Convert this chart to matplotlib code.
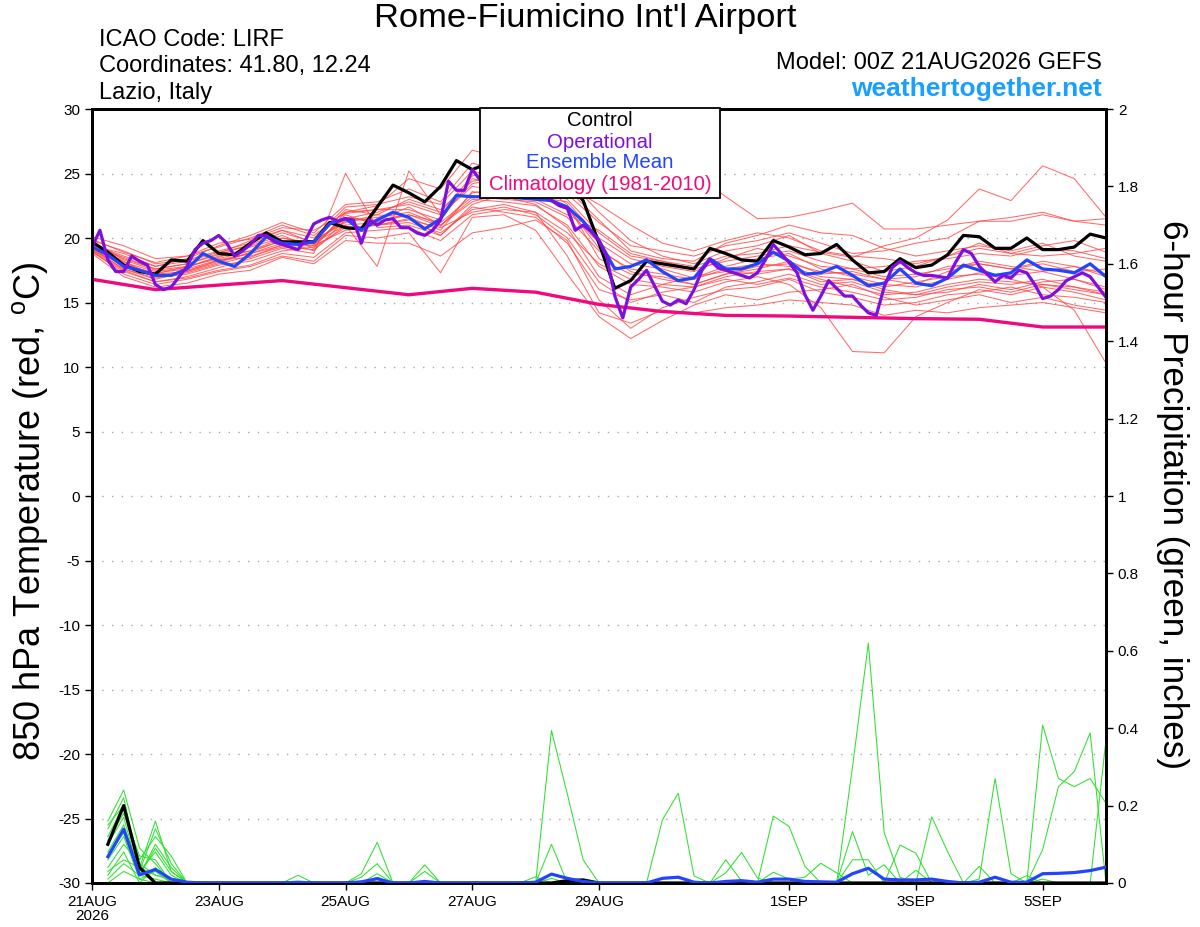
import numpy as np
import matplotlib
matplotlib.use('Agg')
import matplotlib.pyplot as plt
from matplotlib.patches import Rectangle

plt.rcParams['font.family'] = ['Liberation Sans', 'DejaVu Sans']
plt.rcParams['axes.unicode_minus'] = False
plt.rcParams['mathtext.fontset'] = 'custom'
plt.rcParams['mathtext.rm'] = 'Liberation Sans'

# ---------------- data (read off the GEFS plume) ----------------
# time axis in days after 00Z 21AUG2026
tick_days = [0, 2, 4, 6, 8, 11, 13, 15]
tick_labels = ['21AUG\n2026', '23AUG', '25AUG', '27AUG', '29AUG', '1SEP', '3SEP', '5SEP']

# control, 6-hourly (deg C)
ctrl_temp = [19.7, 18.9, 17.9, 17.4, 17.2, 18.3, 18.2, 19.8,
             18.8, 18.7, 19.6, 20.4, 19.7, 19.7, 19.7, 21.2,
             20.8, 20.7, 22.4, 24.1, 23.5, 22.8, 24.0, 26.0,
             25.3, 25.8, 25.5, 25.3, 25.0, 24.8, 24.3, 22.9,
             19.6, 16.1, 16.7, 18.2, 18.0, 17.8, 17.6, 19.2,
             18.8, 18.3, 18.2, 19.8, 19.3, 18.7, 18.8, 19.5,
             18.3, 17.3, 17.4, 18.4, 17.7, 17.9, 18.7, 20.2,
             20.1, 19.2, 19.2, 20.0, 19.1, 19.1, 19.3, 20.3,
             20.0]

# ensemble mean, 6-hourly
mean_temp = [19.3, 18.7, 17.8, 17.5, 17.1, 17.1, 17.6, 18.8,
             18.2, 17.8, 18.8, 20.1, 19.6, 19.5, 19.7, 21.1,
             21.5, 20.6, 21.4, 22.0, 21.6, 20.7, 21.5, 23.3,
             23.2, 23.2, 23.2, 23.1, 23.0, 22.9, 22.4, 21.3,
             19.8, 17.6, 17.8, 18.3, 17.4, 16.7, 16.9, 18.4,
             17.6, 17.6, 18.0, 18.9, 18.2, 17.2, 17.3, 17.8,
             17.1, 16.3, 16.5, 17.6, 16.5, 16.3, 16.9, 17.9,
             17.5, 17.1, 17.3, 18.3, 17.6, 17.5, 17.3, 18.0,
             17.0]

# operational, 3-hourly
op_temp = [19.3, 20.6, 18.3, 17.4, 17.4, 18.6, 18.2, 17.9,
           16.4, 16.0, 16.2, 17.0, 17.8, 19.1, 19.6, 19.8,
           20.2, 19.6, 18.6, 19.0, 19.5, 20.2, 20.2, 19.7,
           19.5, 19.3, 19.1, 19.9, 21.1, 21.4, 21.6, 21.3,
           21.5, 21.4, 19.6, 21.4, 21.0, 21.4, 21.5, 20.8,
           20.8, 20.4, 20.2, 20.6, 21.4, 24.4, 23.7, 23.7,
           25.3, 24.5, 25.0, 25.2, 24.8, 24.5, 24.6, 24.2,
           23.8, 23.4, 22.9, 22.5, 22.3, 20.6, 21.0, 20.5,
           19.8, 18.5, 15.5, 13.8, 16.2, 16.8, 17.5, 16.3,
           15.1, 14.8, 15.2, 14.9, 16.0, 17.5, 18.3, 17.7,
           17.5, 17.3, 17.1, 16.9, 17.3, 18.3, 19.5, 18.8,
           18.1, 17.3, 15.6, 14.4, 15.5, 16.7, 16.1, 15.5,
           15.5, 14.8, 14.2, 14.0, 16.2, 17.7, 18.2, 17.7,
           17.3, 17.1, 17.1, 17.0, 16.9, 18.1, 19.1, 18.8,
           17.8, 17.2, 16.6, 17.1, 16.9, 17.5, 17.3, 16.4,
           15.3, 15.5, 16.0, 16.7, 17.0, 17.3, 17.0, 16.2,
           15.4]

# climatology 1981-2010, daily
clim_temp = [16.8, 16.0, 16.35, 16.7, 16.15, 15.6, 16.1, 15.8, 14.85,
             14.3, 14.0, 13.95, 13.85, 13.75, 13.7, 13.1, 13.1]

# ensemble members, 12-hourly
ens_temp = [
    [19.5, 18.2, 17.0, 17.3, 18.0, 18.6, 19.3, 19.1, 21.0, 21.2, 21.8, 20.9, 23.5, 23.9, 23.4, 22.2, 19.6,
     18.0, 17.6, 16.9, 17.8, 18.4, 18.8, 17.6, 17.0, 16.4, 16.2, 16.8, 17.3, 17.1, 17.4, 16.8, 16.2],
    [20.1, 19.4, 18.4, 18.6, 19.3, 20.0, 21.0, 20.2, 22.0, 22.5, 24.6, 23.8, 26.8, 26.2, 25.5, 24.6, 22.0,
     19.8, 18.6, 18.0, 19.0, 19.4, 20.2, 18.8, 18.2, 17.4, 17.8, 18.6, 19.6, 18.8, 19.4, 19.8, 18.9],
    [19.0, 18.0, 17.2, 17.8, 18.4, 19.0, 20.0, 19.5, 21.5, 22.0, 22.8, 22.0, 24.8, 25.6, 25.8, 25.0, 24.5,
     25.0, 25.3, 25.0, 23.2, 21.5, 21.6, 22.1, 22.7, 20.7, 20.7, 21.0, 21.3, 21.6, 22.0, 21.3, 21.0],
    [19.2, 17.6, 16.8, 17.4, 18.1, 18.9, 19.8, 19.4, 21.8, 21.0, 21.5, 20.2, 22.6, 23.4, 23.8, 23.0, 20.4,
     18.6, 18.2, 17.8, 18.6, 18.8, 19.4, 18.9, 18.5, 19.4, 20.0, 21.4, 23.8, 22.9, 25.6, 24.6, 21.6],
    [19.8, 19.0, 18.0, 18.3, 19.0, 19.6, 20.6, 20.0, 22.4, 22.6, 23.2, 22.6, 25.2, 24.6, 24.0, 23.4, 21.2,
     19.4, 19.0, 18.6, 19.4, 19.8, 20.4, 19.6, 18.8, 19.0, 19.6, 20.0, 21.3, 21.3, 21.8, 21.3, 21.5],
    [19.3, 17.9, 17.3, 17.6, 18.3, 18.5, 19.5, 19.8, 21.3, 21.6, 22.0, 21.0, 23.0, 22.8, 22.5, 21.0, 17.8,
     16.4, 16.2, 15.8, 16.6, 17.0, 16.4, 14.6, 11.2, 11.1, 13.9, 15.0, 16.0, 15.6, 16.2, 15.8, 15.2],
    [18.9, 17.4, 16.6, 17.0, 17.7, 18.4, 19.2, 18.8, 25.0, 20.8, 21.0, 20.2, 22.4, 22.0, 21.6, 19.6, 16.0,
     15.2, 15.6, 15.0, 16.2, 16.6, 17.2, 16.4, 16.6, 15.8, 15.6, 16.2, 16.6, 16.4, 16.8, 16.2, 15.8],
    [19.6, 18.4, 17.6, 18.0, 18.8, 19.8, 20.6, 19.6, 21.0, 17.8, 25.2, 21.8, 24.2, 24.8, 24.4, 22.6, 18.4,
     17.2, 17.0, 16.4, 17.2, 17.8, 18.0, 17.4, 17.2, 16.8, 16.4, 17.4, 18.0, 17.6, 18.2, 17.8, 17.0],
    [19.0, 17.2, 16.4, 16.8, 17.4, 17.8, 18.6, 18.2, 20.2, 20.0, 20.4, 17.3, 21.6, 21.8, 20.6, 17.2, 13.9,
     12.2, 13.6, 14.8, 15.6, 15.2, 15.8, 16.0, 16.4, 15.4, 14.8, 15.2, 15.6, 15.0, 15.4, 14.8, 14.4],
    [19.4, 18.8, 17.8, 18.2, 18.9, 19.4, 20.2, 19.2, 22.0, 22.2, 22.6, 21.8, 24.0, 23.6, 23.0, 21.8, 20.6,
     18.8, 18.2, 17.6, 18.2, 18.6, 19.0, 18.2, 17.6, 17.0, 17.2, 17.6, 18.2, 17.8, 17.4, 17.8, 17.2],
    [19.1, 17.6, 16.9, 17.2, 17.9, 18.2, 19.0, 19.3, 20.8, 21.0, 21.2, 20.4, 22.2, 22.6, 22.0, 20.4, 18.0,
     16.8, 16.4, 16.2, 17.0, 17.4, 17.6, 16.8, 16.2, 15.6, 15.8, 16.4, 16.8, 16.6, 16.4, 16.0, 15.6],
    [19.7, 18.3, 17.5, 17.8, 18.5, 19.3, 20.0, 19.6, 21.6, 21.3, 21.8, 21.2, 23.2, 23.0, 22.8, 21.6, 19.0,
     17.6, 17.2, 16.8, 17.6, 18.0, 17.8, 17.0, 16.8, 16.2, 16.6, 17.0, 17.2, 16.8, 16.2, 14.4, 10.3],
    [18.8, 17.0, 16.2, 16.5, 17.2, 17.5, 18.5, 18.0, 19.8, 19.6, 19.6, 18.6, 20.4, 20.8, 21.4, 19.8, 15.2,
     13.0, 14.6, 15.4, 16.0, 16.2, 16.8, 15.8, 15.4, 14.8, 15.0, 15.6, 15.8, 16.2, 15.6, 15.4, 15.0],
    [19.5, 18.6, 17.8, 18.4, 19.4, 20.2, 21.2, 20.4, 22.6, 22.8, 23.8, 22.8, 25.8, 25.2, 24.6, 23.8, 21.4,
     19.0, 18.4, 18.2, 19.6, 20.2, 21.0, 20.4, 20.2, 19.2, 18.6, 19.0, 19.4, 19.0, 19.6, 18.6, 18.2],
    [19.2, 17.8, 17.0, 17.5, 18.2, 18.8, 19.6, 19.8, 21.2, 21.8, 21.6, 20.6, 23.6, 23.2, 22.6, 20.8, 17.0,
     15.6, 16.4, 17.0, 17.4, 17.2, 17.6, 16.6, 16.8, 16.0, 15.6, 15.8, 16.4, 16.0, 16.6, 16.8, 16.0],
    [19.9, 18.9, 18.1, 18.6, 19.6, 19.9, 20.8, 20.6, 21.9, 22.2, 22.2, 21.4, 24.6, 24.0, 23.2, 22.8, 20.0,
     18.4, 17.8, 17.4, 18.4, 19.2, 18.6, 17.8, 17.6, 17.8, 18.2, 18.4, 18.8, 18.6, 19.2, 19.0, 18.4],
    [19.0, 17.5, 16.6, 16.9, 17.5, 17.9, 18.8, 18.5, 20.4, 20.6, 20.8, 19.8, 21.8, 22.2, 22.0, 18.6, 14.2,
     13.4, 14.4, 14.2, 14.6, 14.8, 15.2, 15.0, 14.8, 14.0, 14.4, 14.2, 14.6, 14.8, 15.0, 14.6, 14.2],
    [19.6, 18.1, 17.4, 17.7, 18.6, 19.0, 19.8, 19.0, 21.4, 21.4, 22.4, 21.0, 22.8, 23.6, 23.6, 22.4, 19.2,
     17.4, 16.8, 16.4, 17.2, 17.6, 18.2, 17.2, 17.4, 16.8, 17.0, 17.8, 18.0, 17.6, 18.0, 17.4, 17.6],
    [19.3, 18.0, 17.2, 17.4, 18.3, 18.8, 19.4, 19.4, 20.6, 21.0, 21.4, 20.8, 22.0, 22.4, 21.8, 20.0, 16.6,
     15.0, 15.8, 16.2, 16.8, 16.4, 16.9, 16.2, 15.8, 15.2, 15.4, 16.0, 16.2, 15.8, 16.4, 16.2, 15.6],
    [19.4, 18.5, 17.6, 18.0, 18.7, 19.5, 20.4, 19.7, 22.2, 21.8, 23.0, 22.2, 24.4, 24.8, 25.2, 24.0, 22.6,
     21.0, 19.6, 19.0, 19.8, 20.4, 20.0, 19.0, 18.6, 18.4, 18.0, 18.6, 19.2, 18.8, 18.6, 18.8, 19.2],
]

# 6-hour precipitation (inches), valid from +6h to +384h
ctrl_precip = [.10, .20, .04, 0, 0, 0, 0, 0, 0, 0, 0, 0, 0, 0, 0, 0,
               0, 0, 0, 0, 0, 0, 0, 0, 0, 0, 0, 0, 0, .006, .008, 0,
               0, 0, 0, 0, 0, 0, 0, 0, 0, 0, 0, 0, 0, 0, 0, 0,
               0, 0, 0, 0, 0, 0, 0, 0, 0, 0, 0, 0, 0, 0, 0, 0]
mean_precip = [.068, .139, .021, .035, .01, .002, 0, 0, 0, 0, 0, 0, .002, 0, 0, 0,
               .003, .011, 0, 0, .004, 0, 0, 0, 0, 0, 0, .002, .023, .012, .004, 0,
               0, 0, 0, .012, .015, .002, 0, .004, .006, .002, .01, .01, .004, .003, .002, .024,
               .038, .01, .008, .008, .01, .004, 0, .002, .015, .002, .002, .024, .025, .027, .032, .041]
ens_precip = [
    [.16, .24, .09, .05, 0, 0, 0, 0, 0, 0, 0, 0, 0, 0, 0, 0,
     .024, .105, 0, 0, 0, 0, 0, 0, 0, 0, 0, 0, 0, 0, 0, 0,
     0, 0, 0, .163, .232, .018, 0, 0, 0, 0, 0, 0, 0, 0, 0, 0,
     0, 0, 0, 0, 0, 0, 0, .043, 0, 0, 0, 0, 0, 0, 0, 0],
    [.14, .22, .04, .16, .03, 0, 0, 0, 0, 0, 0, 0, 0, 0, 0, 0,
     .015, .05, 0, 0, .047, 0, 0, 0, 0, 0, 0, 0, 0, 0, 0, 0,
     0, 0, 0, 0, 0, 0, 0, .06, .005, 0, 0, 0, 0, 0, 0, 0,
     0, 0, 0, 0, 0, 0, 0, .01, .27, .024, 0, 0, 0, 0, 0, 0],
    [.12, .20, .06, .12, .07, 0, 0, 0, 0, 0, 0, 0, 0, 0, 0, 0,
     0, .024, 0, 0, 0, 0, 0, 0, 0, 0, 0, 0, .012, 0, 0, 0,
     0, 0, 0, 0, 0, 0, 0, .026, .079, .013, 0, 0, 0, 0, 0, 0,
     0, 0, 0, 0, 0, 0, 0, 0, 0, 0, .019, 0, 0, 0, 0, 0],
    [.10, .17, .02, .10, .04, 0, 0, 0, 0, 0, 0, 0, 0, 0, 0, 0,
     0, .015, 0, 0, 0, 0, 0, 0, 0, 0, 0, 0, 0, 0, 0, 0,
     0, 0, 0, 0, 0, 0, 0, 0, 0, 0, .173, .146, .043, 0, 0, 0,
     0, 0, 0, 0, 0, 0, 0, 0, 0, 0, 0, .408, .27, .249, .27, .206],
    [.08, .15, .03, .08, .02, 0, 0, 0, 0, 0, 0, 0, .02, 0, 0, 0,
     0, 0, 0, 0, 0, 0, 0, 0, 0, 0, 0, 0, 0, 0, 0, 0,
     0, 0, 0, 0, 0, 0, 0, 0, 0, 0, .028, .01, .015, .051, .026, 0,
     0, 0, 0, 0, 0, 0, 0, 0, 0, 0, 0, .086, .249, .288, .388, 0],
    [.06, .12, .01, .03, 0, 0, 0, 0, 0, 0, 0, 0, 0, 0, 0, 0,
     0, 0, 0, 0, .03, 0, 0, 0, 0, 0, 0, 0, 0, 0, 0, 0,
     0, 0, 0, 0, 0, 0, 0, 0, 0, 0, 0, 0, 0, 0, 0, .133,
     .02, .047, 0, 0, 0, 0, 0, 0, 0, 0, 0, .01, 0, 0, 0, .37],
    [.04, .10, .05, .02, .01, 0, 0, 0, 0, 0, 0, 0, 0, 0, 0, 0,
     0, 0, 0, 0, 0, 0, 0, 0, 0, 0, 0, .016, 0, 0, 0, 0,
     0, 0, 0, 0, 0, 0, 0, 0, 0, 0, 0, 0, 0, 0, 0, .06,
     .06, 0, 0, .033, 0, 0, 0, 0, 0, 0, 0, 0, 0, 0, 0, 0],
    [.02, .08, 0, .04, 0, 0, 0, 0, 0, 0, 0, 0, 0, 0, 0, 0,
     0, 0, 0, 0, 0, 0, 0, 0, 0, 0, 0, 0, .394, .23, .06, 0,
     0, 0, 0, 0, 0, 0, 0, 0, 0, 0, 0, 0, 0, 0, 0, .30,
     .62, .13, .015, 0, 0, 0, 0, 0, 0, 0, 0, 0, 0, 0, 0, 0],
    [.01, .05, .02, .01, 0, 0, 0, 0, 0, 0, 0, 0, 0, 0, 0, 0,
     0, 0, 0, 0, 0, 0, 0, 0, 0, 0, 0, 0, .10, 0, 0, 0,
     0, 0, 0, 0, 0, 0, 0, 0, 0, 0, 0, 0, 0, 0, 0, 0,
     0, 0, .098, .077, 0, 0, 0, 0, 0, 0, 0, 0, 0, 0, 0, 0],
    [0, .03, .01, 0, 0, 0, 0, 0, 0, 0, 0, 0, 0, 0, 0, 0,
     0, 0, 0, 0, 0, 0, 0, 0, 0, 0, 0, 0, 0, 0, 0, 0,
     0, 0, 0, 0, 0, 0, 0, 0, 0, 0, 0, 0, 0, 0, 0, 0,
     0, 0, 0, 0, .171, .081, 0, 0, 0, 0, 0, 0, 0, 0, 0, 0],
    [.15, .20, .03, .14, .05, 0, 0, 0, 0, 0, 0, 0, 0, 0, 0, 0,
     0, 0, 0, 0, 0, 0, 0, 0, 0, 0, 0, 0, 0, 0, 0, 0,
     0, 0, 0, 0, 0, 0, 0, 0, 0, 0, 0, 0, 0, 0, 0, 0,
     0, 0, 0, 0, 0, 0, 0, 0, 0, 0, 0, 0, 0, 0, 0, 0],
    [.11, .18, .07, .06, 0, 0, 0, 0, 0, 0, 0, 0, 0, 0, 0, 0,
     0, 0, 0, 0, 0, 0, 0, 0, 0, 0, 0, 0, 0, 0, 0, 0,
     0, 0, 0, 0, 0, 0, 0, 0, 0, 0, 0, 0, 0, 0, 0, 0,
     0, 0, 0, 0, 0, 0, 0, 0, 0, 0, 0, 0, 0, 0, 0, 0],
    [.07, .13, .02, .09, .03, 0, 0, 0, 0, 0, 0, 0, 0, 0, 0, 0,
     0, 0, 0, 0, 0, 0, 0, 0, 0, 0, 0, 0, 0, 0, 0, 0,
     0, 0, 0, 0, 0, 0, 0, 0, 0, 0, 0, 0, 0, 0, 0, 0,
     0, 0, 0, 0, 0, 0, 0, 0, 0, 0, 0, 0, 0, 0, 0, 0],
    [.03, .06, .04, .02, .01, 0, 0, 0, 0, 0, 0, 0, 0, 0, 0, 0,
     0, 0, 0, 0, 0, 0, 0, 0, 0, 0, 0, 0, 0, 0, 0, 0,
     0, 0, 0, 0, 0, 0, 0, 0, 0, 0, 0, 0, 0, 0, 0, 0,
     0, 0, 0, 0, 0, 0, 0, 0, 0, 0, 0, 0, 0, 0, 0, 0],
]

# ---------------- colours ----------------
c_red = '#ff4646'
c_green = '#2fe02f'
c_ctrl = '#000000'
c_op = '#7f0fdf'
c_mean = '#2244ff'
c_clim = '#f0087f'
c_site = '#1a9fff'

W, H = 1200, 927
fig = plt.figure(figsize=(W / 100, H / 100), dpi=100)
ax = fig.add_axes([92 / W, 1 - 883 / H, (1106 - 92) / W, (883 - 109) / H])

# ensemble members
for m in ens_temp:
    ax.plot(np.arange(len(m)) * 0.5, m, color=c_red, lw=0.75, alpha=0.8, zorder=2)

ax.plot(np.arange(len(clim_temp)), clim_temp, color=c_clim, lw=2.4, zorder=3)
ax.plot(np.arange(len(ctrl_temp)) * 0.25, ctrl_temp, color=c_ctrl, lw=2.3, zorder=4)
ax.plot(np.arange(len(mean_temp)) * 0.25, mean_temp, color=c_mean, lw=2.3, zorder=5)
ax.plot(np.arange(len(op_temp)) * 0.125, op_temp, color=c_op, lw=2.3, zorder=6)

ax.set_xlim(0, 16)
ax.set_ylim(-30, 30)
ax.set_yticks(np.arange(-30, 31, 5))
for yv in range(-25, 30, 5):
    ax.axhline(yv, color='#a8a8a8', lw=1.0, ls=(0, (1, 6)), zorder=1)
ax.set_xticks(tick_days)
ax.set_xticklabels(tick_labels, linespacing=1.05)
ax.tick_params(axis='both', direction='out', length=5, width=1, labelsize=11)

# precipitation on the right-hand axis
ax2 = ax.twinx()
ax2.set_ylim(0, 2)
ax2.set_yticks(np.arange(0, 2.01, 0.2))
ax2.set_yticklabels([f'{v:g}' for v in np.round(np.arange(0, 2.01, 0.2), 1)])
ax2.tick_params(axis='y', direction='out', length=5, width=1, labelsize=11)
px = np.arange(1, 65) * 0.25
for m in ens_precip:
    ax2.plot(px, m, color=c_green, lw=0.75, zorder=2)
ax2.plot(px, ctrl_precip, color=c_ctrl, lw=2.3, zorder=3)
ax2.plot(px, mean_precip, color=c_mean, lw=2.3, zorder=4)

for a in (ax, ax2):
    for s in a.spines.values():
        s.set_linewidth(2)

# ---------------- text ----------------
def fy(y):
    return 1 - y / H

fig.text(585 / W, fy(18), "Rome-Fiumicino Int'l Airport", ha='center', va='center', fontsize=24.8)
fig.text(99 / W, fy(40), 'ICAO Code: LIRF', ha='left', va='center', fontsize=17)
fig.text(99 / W, fy(66), 'Coordinates: 41.80, 12.24', ha='left', va='center', fontsize=17)
fig.text(99 / W, fy(93), 'Lazio, Italy', ha='left', va='center', fontsize=17)
fig.text(1102 / W, fy(63), 'Model: 00Z 21AUG2026 GEFS', ha='right', va='center', fontsize=17)
fig.text(1102 / W, fy(89), 'weathertogether.net', ha='right', va='center', fontsize=19,
         fontweight='bold', color=c_site)

fig.text(30 / W, fy(511), r'850 hPa Temperature (red, $^{\rm o}$C)', rotation=90,
         ha='center', va='center', fontsize=26)
fig.text(1172 / W, fy(495), '6-hour Precipitation (green, inches)', rotation=-90,
         ha='center', va='center', fontsize=25.3)

# legend box
fig.add_artist(Rectangle((480 / W, fy(198)), 240 / W, 90 / H, transform=fig.transFigure,
                         facecolor='white', edgecolor='black', lw=1.3, zorder=10))
leg_items = [('Control', c_ctrl, 121), ('Operational', c_op, 142),
             ('Ensemble Mean', c_mean, 163), ('Climatology (1981-2010)', c_clim, 185)]
for txt, col, yy in leg_items:
    fig.text(600 / W, fy(yy), txt, ha='center', va='center', fontsize=14.7, color=col, zorder=11)

fig.savefig('out.png', dpi=100)
